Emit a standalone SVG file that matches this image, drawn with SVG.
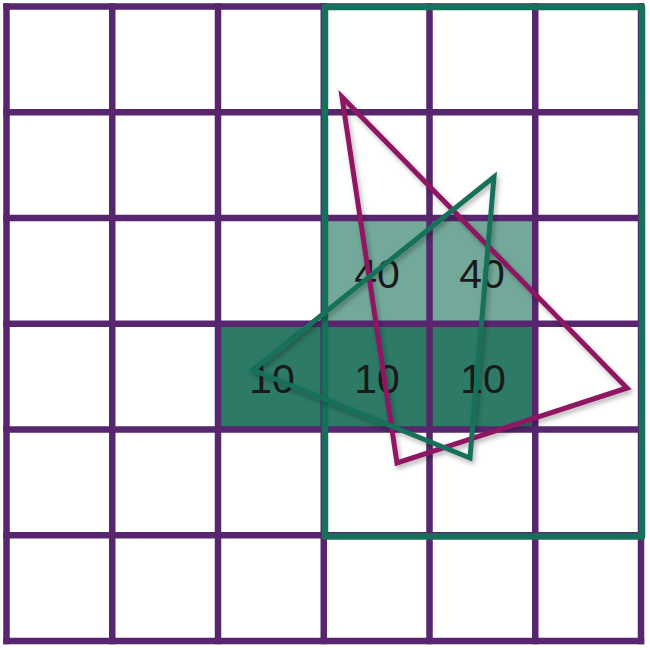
<svg xmlns="http://www.w3.org/2000/svg" width="650" height="650" viewBox="0 0 650 650">
<style>
.grid{stroke:#57266E;stroke-width:6.5;fill:none;stroke-linecap:square}
.light{fill:#73A99A}
.dark{fill:#2D7A66}
.num{font-family:"Liberation Sans",Arial,sans-serif;font-size:41px;fill:#1a1a1a;text-anchor:middle}
.box{fill:none;stroke:#17705A;stroke-width:6.5;stroke-linejoin:round}
.tri{fill:none;stroke-width:5;stroke-linejoin:miter}
</style>
<defs>
<filter id="sh" x="-20%" y="-20%" width="140%" height="140%">
<feDropShadow dx="2" dy="3" stdDeviation="2.5" flood-color="#000" flood-opacity="0.3"/>
</filter>
</defs>
<rect width="650" height="650" fill="#ffffff"/>
<g id="cells">
<rect class="light" x="324" y="218" width="211" height="106"/>
<rect class="dark" x="218" y="324" width="317" height="106"/>
</g>
<g id="grid" class="grid">
<path d="M6.5 6.5V641 M112.25 6.5V641 M218 6.5V641 M323.75 6.5V641 M429.5 6.5V641 M535.25 6.5V641 M641 6.5V641"/>
<path d="M6.5 6.5H641 M6.5 112.25H641 M6.5 218H641 M6.5 323.75H641 M6.5 429.5H641 M6.5 535.25H641 M6.5 641H641"/>
</g>
<g id="labels">
<text class="num" x="377" y="288">40</text>
<text class="num" x="482" y="288">40</text>
<text class="num" x="272" y="393">10</text>
<text class="num" x="377" y="393">10</text>
<text class="num" x="483" y="393">10</text>
</g>
<g id="region">
<rect class="box" x="325" y="7" width="317" height="529.5"/>
</g>
<g id="triangles" filter="url(#sh)">
<polygon id="magenta-triangle" class="tri" stroke="#8E1462" points="342,97 627,388 397,463"/>
<polygon id="green-triangle" class="tri" stroke="#17705A" points="494,177 253,370 470,458"/>
</g>
</svg>
